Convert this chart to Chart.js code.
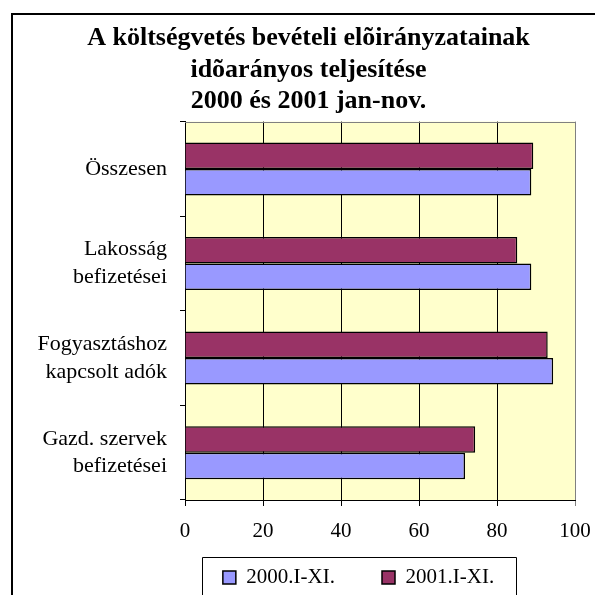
<!DOCTYPE html>
<html>
<head>
<meta charset="utf-8">
<script src="https://cdn.jsdelivr.net/npm/chart.js@4"></script>
<style>
  html, body { margin: 0; padding: 0; background: #fff; }
  #wrap { width: 595px; height: 595px; position: relative; }
</style>
</head>
<body>
<div id="wrap"><canvas id="c" width="595" height="595"></canvas></div>
<script>
// ---- data ----
const categories = [
  ['Összesen'],
  ['Lakosság', 'befizetései'],
  ['Fogyasztáshoz', 'kapcsolt adók'],
  ['Gazd. szervek', 'befizetései']
];
const seriesNames = ['2000.I-XI.', '2001.I-XI.'];
const values2000 = [88.8, 88.8, 94.4, 71.8];
const values2001 = [89.3, 85.2, 93.0, 74.4];
const xTicks = [0, 20, 40, 60, 80, 100];
const titleLines = [
  'A költségvetés bevételi elõirányzatainak',
  'idõarányos teljesítése',
  '2000 és 2001 jan-nov.'
];

const SERIF = "'Liberation Serif', 'Times New Roman', serif";
const LEGEND_PAD = 47;

const decor = {
  id: 'decor',
  beforeLayout(chart) {
    const lg = chart.legend;
    if (lg && !lg._fixedFit) {
      const orig = lg.fit.bind(lg);
      lg.fit = function () { orig(); this.height = 50; };
      lg._fixedFit = true;
    }
  },
  afterLayout(chart) {
    const lg = chart.legend;
    const dx = 71;
    lg.left += dx; lg.right += dx;
    const itemTop = Math.round(chart.chartArea.bottom + 67);
    lg.top = itemTop - LEGEND_PAD;
    lg.bottom = chart.height;
    lg.height = lg.bottom - lg.top;
    const tb = chart.titleBlock;
    if (tb) { tb.left += 21; tb.right += 21; }
  },
  beforeDraw(chart) {
    const {ctx, chartArea: a} = chart;
    ctx.save();
    ctx.fillStyle = '#FFFFCC';
    ctx.fillRect(a.left, a.top, a.right - a.left, a.bottom - a.top);
    ctx.restore();
  },
  afterDraw(chart) {
    const {ctx, chartArea: a} = chart;
    ctx.save();
    // plot top border
    ctx.strokeStyle = '#808080';
    ctx.lineWidth = 1;
    ctx.beginPath();
    ctx.moveTo(a.left, Math.round(a.top) + 0.5);
    ctx.lineTo(a.right, Math.round(a.top) + 0.5);
    ctx.stroke();
    // outer chart border
    ctx.strokeStyle = '#000';
    ctx.lineWidth = 2;
    ctx.beginPath();
    ctx.moveTo(12, 600);
    ctx.lineTo(12, 14);
    ctx.lineTo(600, 14);
    ctx.stroke();
    // legend frame
    const hb = chart.legend.legendHitBoxes;
    if (hb && hb.length) {
      const first = hb[0], last = hb[hb.length - 1];
      const l = Math.round(first.left - 21) + 0.5;
      const r = Math.round(last.left + last.width + 22) + 0.5;
      const t = Math.round(first.top - 10) + 0.5;
      ctx.lineWidth = 1;
      ctx.beginPath();
      ctx.moveTo(l, 600);
      ctx.lineTo(l, t);
      ctx.lineTo(r, t);
      ctx.lineTo(r, 600);
      ctx.stroke();
    }
    ctx.restore();
  }
};

new Chart(document.getElementById('c'), {
  type: 'bar',
  data: {
    labels: categories,
    datasets: [
      {
        label: seriesNames[1],
        data: values2001,
        backgroundColor: '#993366',
        borderColor: '#000000',
        borderWidth: 1.5
      },
      {
        label: seriesNames[0],
        data: values2000,
        backgroundColor: '#9999FF',
        borderColor: '#000000',
        borderWidth: 1.5
      }
    ]
  },
  options: {
    indexAxis: 'y',
    responsive: false,
    animation: false,
    devicePixelRatio: 1,
    datasets: { bar: { categoryPercentage: 0.56, barPercentage: 1.0 } },
    layout: { padding: { top: 23, left: 0, right: 20, bottom: 0 } },
    plugins: {
      title: {
        display: true,
        text: titleLines,
        color: '#000',
        font: { family: SERIF, size: 26, weight: 'bold', lineHeight: 1.2 },
        padding: { top: 0, bottom: 5 }
      },
      legend: {
        position: 'bottom',
        reverse: true,
        labels: {
          color: '#000',
          font: { family: SERIF, size: 21 },
          boxWidth: 13,
          boxHeight: 13,
          padding: LEGEND_PAD
        }
      },
      tooltip: { enabled: false }
    },
    scales: {
      x: {
        min: 0,
        max: 100,
        afterBuildTicks(scale) { scale.ticks = xTicks.map(v => ({ value: v })); },
        afterFit(scale) { scale.height = 45; scale.paddingRight = 0; },
        ticks: {
          color: '#000',
          font: { family: SERIF, size: 21 },
          padding: 13,
          maxRotation: 0
        },
        grid: {
          color: (c) => (c.tick && c.tick.value === 100 ? '#808080' : '#000'),
          lineWidth: 1,
          tickLength: 6,
          drawTicks: true
        },
        border: { color: '#000', width: 1 }
      },
      y: {
        afterFit(scale) { scale.width = 185; },
        ticks: {
          color: '#000',
          font: { family: SERIF, size: 22, lineHeight: 1.27 },
          padding: 13
        },
        grid: {
          drawOnChartArea: false,
          drawTicks: true,
          tickLength: 5,
          color: '#000',
          offset: true
        },
        border: { color: '#000', width: 1 }
      }
    }
  },
  plugins: [decor]
});
</script>
</body>
</html>
